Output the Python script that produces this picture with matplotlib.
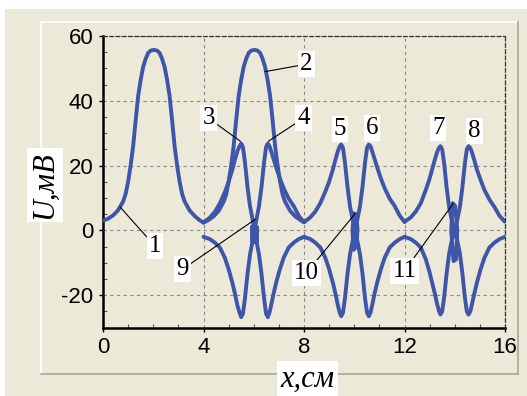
import numpy as np
import matplotlib.pyplot as plt
from matplotlib.patches import Rectangle
from matplotlib.lines import Line2D
from matplotlib.ticker import MultipleLocator

plt.rcParams['axes.unicode_minus'] = False

# --- data ---
# curve 1 (single peak, 0..4)
x1 = [0.0, 0.2, 0.4, 0.6, 0.8, 0.9, 1.0, 1.1, 1.2, 1.3, 1.4, 1.5, 1.6, 1.7, 1.8, 1.9, 2.03,
      2.15, 2.25, 2.35, 2.45, 2.55, 2.65, 2.75, 2.85, 2.95, 3.05, 3.15, 3.25, 3.45, 3.65, 3.85, 4.0]
y1 = [3.0, 3.6, 4.6, 6.2, 8.9, 11.2, 15.0, 20.0, 26.0, 34.0, 41.5, 46.5, 50.5, 53.0, 54.8, 55.5, 55.7,
      55.5, 54.8, 53.0, 50.5, 46.5, 41.5, 34.0, 26.0, 20.0, 15.0, 11.2, 8.9, 6.1, 4.4, 3.1, 2.4]

# curve 2 (single peak, 4..8)
x2 = [4.0, 4.2, 4.4, 4.6, 4.8, 4.9, 5.0, 5.1, 5.2, 5.3, 5.4, 5.5, 5.6, 5.7, 5.8, 5.9, 6.03,
      6.15, 6.25, 6.35, 6.45, 6.55, 6.65, 6.75, 6.85, 6.95, 7.05, 7.15, 7.25, 7.45, 7.65, 7.85, 8.0]
y2 = [2.4, 3.2, 4.3, 6.0, 8.8, 11.0, 15.0, 20.0, 26.0, 34.0, 41.5, 46.5, 50.5, 53.0, 54.8, 55.5, 55.7,
      55.5, 54.8, 53.0, 50.5, 46.5, 41.5, 34.0, 26.0, 20.0, 15.0, 11.0, 8.8, 6.0, 4.3, 3.2, 2.5]

# curves 3 / 4 (4..8)
x34 = [4.0, 4.25, 4.45, 4.65, 4.85, 5.0, 5.15, 5.25, 5.35, 5.43, 5.5, 5.57, 5.65, 5.75, 5.85, 5.95, 6.03,
       6.11, 6.21, 6.31, 6.41, 6.49, 6.56, 6.63, 6.69, 6.79, 6.89, 7.04, 7.19, 7.39, 7.59, 7.79, 8.0]
y3 = [2.4, 3.9, 5.7, 8.3, 11.8, 15.0, 18.8, 21.8, 24.5, 25.9, 26.8, 25.7, 21.0, 13.5, 7.5, 3.5, 0.0,
      -3.5, -7.5, -13.5, -21.0, -25.7, -26.8, -25.3, -23.2, -19.5, -16.2, -12.0, -8.5, -5.3, -3.8, -2.7, -2.0]
y4 = [-2.0, -2.7, -3.8, -5.3, -8.5, -12.0, -16.2, -19.5, -23.2, -25.3, -26.8, -25.7, -21.0, -13.5, -7.5, -3.5, 0.0,
      3.5, 7.5, 13.5, 21.0, 25.7, 26.8, 25.9, 24.5, 22.0, 19.5, 16.0, 13.0, 9.8, 7.5, 4.5, 2.5]

# curves 5 / 6 (8..12)
x56 = [8.0, 8.25, 8.45, 8.65, 8.85, 9.0, 9.15, 9.25, 9.35, 9.42, 9.48, 9.55, 9.63, 9.73, 9.83, 9.93, 10.03,
       10.13, 10.23, 10.33, 10.43, 10.51, 10.58, 10.65, 10.71, 10.81, 10.91, 11.06, 11.21, 11.41, 11.61, 11.81, 12.0]
y5 = [2.5, 4.0, 5.8, 8.4, 12.0, 15.0, 18.8, 21.8, 24.5, 25.9, 26.5, 25.5, 21.0, 13.5, 7.5, 3.5, 0.0,
      -3.5, -7.5, -13.5, -21.0, -25.5, -26.5, -25.3, -23.2, -19.5, -16.2, -12.0, -8.5, -5.3, -3.8, -2.7, -2.0]
y6 = [-2.0, -2.7, -3.8, -5.3, -8.5, -12.0, -16.2, -19.5, -23.2, -25.3, -26.5, -25.5, -21.0, -13.5, -7.5, -3.5, 0.0,
      3.5, 7.5, 13.5, 21.0, 25.5, 26.5, 25.9, 24.5, 22.0, 19.5, 16.0, 13.0, 9.8, 7.5, 4.5, 2.6]

# curves 7 / 8 (12..16)
x78 = [12.0, 12.25, 12.45, 12.65, 12.85, 13.0, 13.1, 13.2, 13.3, 13.37, 13.43, 13.5, 13.58, 13.68, 13.78, 13.88, 13.99,
       14.1, 14.2, 14.3, 14.4, 14.48, 14.55, 14.62, 14.68, 14.78, 14.88, 15.03, 15.18, 15.38, 15.58, 15.78, 16.0]
y7 = [2.6, 4.0, 5.8, 8.4, 12.5, 16.0, 18.8, 21.6, 24.2, 25.4, 26.0, 25.0, 20.5, 13.0, 7.0, 3.2, 0.0,
      -3.2, -7.0, -13.0, -20.5, -25.0, -26.0, -25.0, -23.0, -19.5, -16.2, -12.0, -8.5, -5.3, -3.8, -2.7, -2.0]
y8 = [-2.0, -2.7, -3.8, -5.3, -9.0, -13.0, -16.2, -19.3, -22.8, -24.8, -26.0, -25.0, -20.5, -13.0, -7.0, -3.2, 0.0,
      3.2, 7.0, 13.0, 20.5, 25.0, 26.0, 25.4, 24.2, 21.6, 18.8, 15.5, 12.5, 9.5, 7.2, 4.5, 2.6]

# curves 9 / 10 / 11 (small loops at the crossings)
x9 = [5.93, 5.93, 6.13, 6.13, 5.93]
y9 = [1.0, -3.6, -3.6, 1.0, 1.0]
x10 = [9.98, 9.93, 9.97, 10.09, 10.13, 10.08, 9.98]
y10 = [5.2, 0.0, -6.0, -5.0, 0.5, 5.0, 5.2]
x11 = [13.92, 13.86, 13.95, 14.05, 14.1, 14.02, 13.92]
y11 = [8.3, 0.0, -9.5, -9.0, 0.0, 7.5, 8.3]

# curve labels: text, label position, point on curve (None = no leader)
lab_text = ["1", "2", "3", "4", "5", "6", "7", "8", "9", "10", "11"]
lab_pos = [(2.07, -4.9), (8.1, 51.3), (4.2, 34.6), (7.98, 34.6), (9.44, 31.3), (10.7, 31.5),
           (13.34, 31.5), (14.78, 30.8), (3.17, -12.0), (8.08, -13.3), (12.0, -12.5)]
lab_pt = [(0.68, 7.2), (6.45, 49.0), (5.47, 27.5), (6.58, 27.5), None, None,
          None, None, (6.06, 3.4), (10.04, 5.2), (13.94, 8.3)]

xticks = [0, 4, 8, 12, 16]
yticks = [-20, 0, 20, 40, 60]

beige = '#ECE9D8'
blue = '#3F55A9'

fig = plt.figure(figsize=(5.27, 3.96), dpi=100)
fig.patch.set_facecolor('white')
W, H = 527.0, 396.0

# outer panel + raised frame
fig.patches.append(Rectangle((5 / W, 0), 1 - 5 / W, 1 - 9 / H, transform=fig.transFigure,
                             facecolor=beige, edgecolor='none', zorder=-5))
fx0, fx1, fy0, fy1 = 41 / W, 518 / W, 1 - 374 / H, 1 - 22 / H
for xs, ys, c in [([fx0, fx1], [fy1, fy1], 'white'), ([fx0, fx0], [fy0, fy1], 'white'),
                  ([fx0, fx1], [fy0, fy0], '#A8A699'), ([fx1, fx1], [fy0, fy1], '#A8A699')]:
    fig.add_artist(Line2D(xs, ys, transform=fig.transFigure, color=c, lw=1.2, zorder=-4))

ax = fig.add_axes([103 / W, 1 - 327.5 / H, (505 - 103) / W, (327.5 - 36) / H])
ax.set_zorder(2)
ax.set_facecolor('none')
ax.set_xlim(0, 16)
ax.set_ylim(-30, 60)

lw = 2.8
for xs, ys in [(x1, y1), (x2, y2), (x34, y3), (x34, y4), (x56, y5), (x56, y6),
               (x78, y7), (x78, y8), (x9, y9), (x10, y10), (x11, y11)]:
    ax.plot(xs, ys, color=blue, lw=lw, solid_capstyle='round', solid_joinstyle='round', zorder=3)

for t, p, q in zip(lab_text, lab_pos, lab_pt):
    if q is None:
        ax.text(p[0], p[1], t, ha='center', va='center', fontsize=18, family='Liberation Serif',
                bbox=dict(boxstyle='square,pad=0.08', fc='white', ec='none'), zorder=5)
    else:
        ax.annotate(t, xy=q, xytext=p, ha='center', va='center', fontsize=18,
                    family='Liberation Serif',
                    bbox=dict(boxstyle='square,pad=0.08', fc='white', ec='none'),
                    arrowprops=dict(arrowstyle='-', color='black', lw=0.8, shrinkA=0, shrinkB=0),
                    zorder=5)

ax.set_xticks(xticks)
ax.set_yticks(yticks)
ax.xaxis.set_minor_locator(MultipleLocator(1))
ax.yaxis.set_minor_locator(MultipleLocator(5))
ax.tick_params(which='major', direction='out', length=3, width=1, labelsize=16, pad=4)
ax.tick_params(which='minor', direction='in', length=3, width=0.8, color='#555555')
for lb in ax.get_xticklabels() + ax.get_yticklabels():
    lb.set_family('Liberation Sans')

ax.grid(True, which='major', color='#8A8A8A', ls=(0, (3, 3)), lw=0.8, zorder=1)
for s in ['left', 'bottom']:
    ax.spines[s].set_linewidth(1.8)
    ax.spines[s].set_color('black')
for s in ['top', 'right']:
    ax.spines[s].set_linestyle((0, (3, 2)))
    ax.spines[s].set_linewidth(0.9)
    ax.spines[s].set_color('#333333')

fig.text(45 / W, 1 - 185 / H, 'U,мВ', rotation=90, ha='center', va='center', fontsize=22,
         family='Liberation Serif', style='italic',
         bbox=dict(boxstyle='square,pad=0.1', fc='white', ec='none'))
fig.text(307.5 / W, 1 - 379 / H, 'x,см', ha='center', va='center', fontsize=22,
         family='Liberation Serif', style='italic',
         bbox=dict(boxstyle='square,pad=0.1', fc='white', ec='none'))

fig.savefig('out.png', dpi=100, facecolor='white')
